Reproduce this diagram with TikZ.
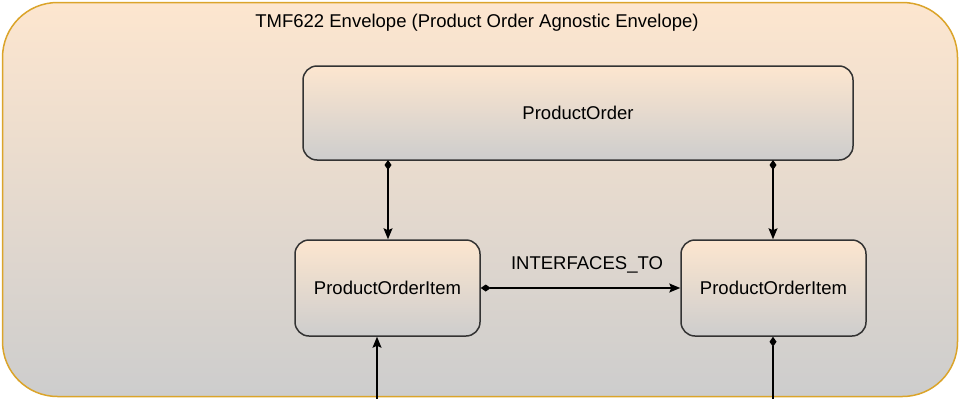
\documentclass[tikz,border=0pt]{standalone}
\usepackage{fontspec}
\setmainfont{Liberation Sans}
\usetikzlibrary{arrows.meta}
\definecolor{peach}{HTML}{FDE6CF}
\definecolor{greyend}{HTML}{CDCDCD}
\definecolor{envstroke}{HTML}{DBA42A}
\definecolor{boxstroke}{HTML}{333333}
\tikzset{
  x=1pt, y=-1pt,
  every node/.style={font=\fontsize{18.5}{22}\selectfont},
  entity/.style={draw=boxstroke, line width=1.5pt, rounded corners=14pt,
    top color=peach, bottom color=greyend, inner sep=0pt},
  relation/.style={draw=black, line width=1.4pt,
    {Diamond[length=10pt,width=7pt]}-{Stealth[length=11pt,width=9pt,inset=2pt]}},
  plainhead/.style={draw=black, line width=1.4pt,
    -{Stealth[length=11pt,width=9pt,inset=2pt]}},
  plaintail/.style={draw=black, line width=1.4pt,
    {Diamond[length=10pt,width=7pt]}-}
}
\begin{document}
\begin{tikzpicture}
  \useasboundingbox (0,0) rectangle (961,399);
  % envelope
  \node[draw=envstroke, line width=1.5pt, rounded corners=55pt,
        top color=peach, bottom color=greyend, inner sep=0pt,
        minimum width=955pt, minimum height=394pt] (env) at (480,199.5) {};
  \node[anchor=center] (title) at (477,23) {TMF622 Envelope (Product Order Agnostic Envelope)};

  % entities
  \node[entity, minimum width=550pt, minimum height=94pt] (po) at (578,113) {ProductOrder};
  \node[entity, minimum width=185pt, minimum height=96pt] (li) at (387.5,288) {ProductOrderItem};
  \node[entity, minimum width=185pt, minimum height=96pt] (ri) at (773.5,288) {ProductOrderItem};

  % links
  \coordinate (pl) at (388,160);
  \coordinate (pr) at (773,160);
  \draw[relation] (pl) -- (pl |- li.north);
  \draw[relation] (pr) -- (pr |- ri.north);
  \draw[relation] (li.east) -- (ri.west);
  \node (lbl) at (587,265) {INTERFACES\_TO};

  \coordinate (bl) at (377,399);
  \coordinate (br) at (773,399);
  \draw[plainhead] (bl) -- (bl |- li.south);
  \draw[plaintail] (br |- ri.south) -- (br);
\end{tikzpicture}
\end{document}
